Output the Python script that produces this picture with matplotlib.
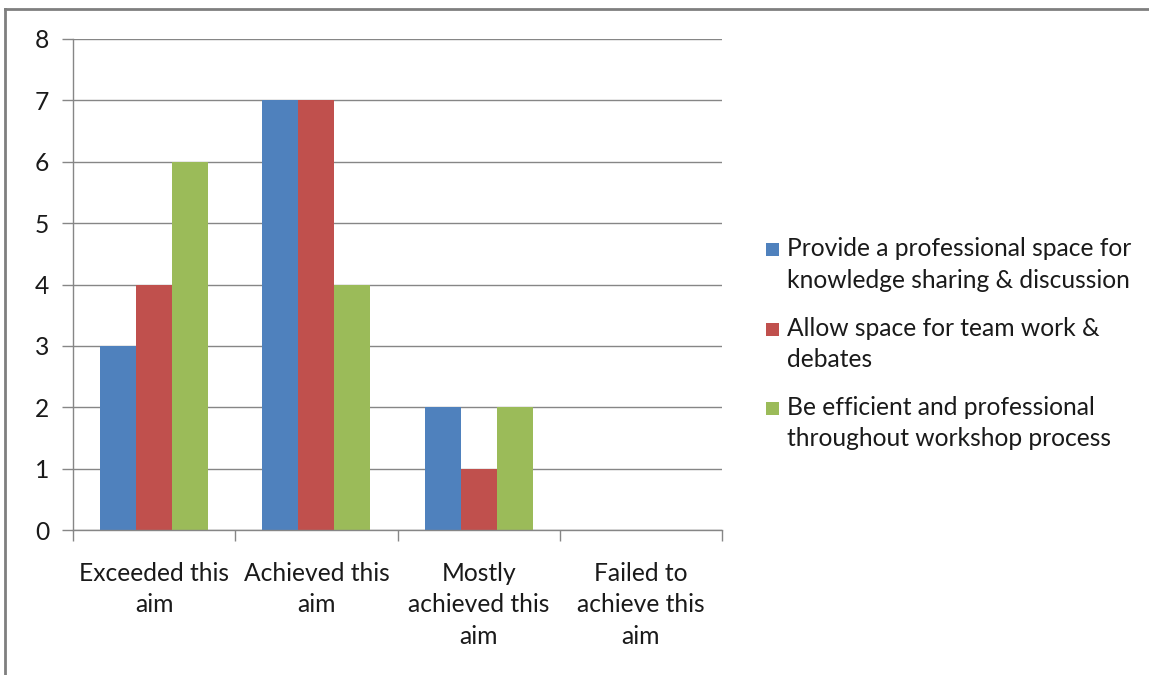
import matplotlib
matplotlib.use("Agg")
import matplotlib.pyplot as plt
from matplotlib.lines import Line2D
from matplotlib.patches import Rectangle
from matplotlib.transforms import blended_transform_factory
import numpy as np

categories = ["Exceeded this\naim", "Achieved this\naim", "Mostly\nachieved this\naim", "Failed to\nachieve this\naim"]
series_names = [
    "Provide a professional space for\nknowledge sharing & discussion",
    "Allow space for team work &\ndebates",
    "Be efficient and professional\nthroughout workshop process",
]
series_values = [
    [3, 7, 2, 0],
    [4, 7, 1, 0],
    [6, 4, 2, 0],
]
colors = ["#4F81BD", "#C0504D", "#9BBB59"]
y_ticks = [0, 1, 2, 3, 4, 5, 6, 7, 8]

plt.rcParams["font.family"] = ["Lato", "DejaVu Sans"]
W, H = 1149, 675
fs = 17.7
text_c = "#1a1a1a"
pitch = 31.5  # pixel distance between baselines of wrapped lines
fig = plt.figure(figsize=(W / 100, H / 100), dpi=100)
ax_left, ax_right, ax_top, ax_bot = 73, 722, 39, 530
ax = fig.add_axes([ax_left / W, 1 - ax_bot / H, (ax_right - ax_left) / W, (ax_bot - ax_top) / H])


def fy(px):
    """Figure fraction for a pixel row counted from the top."""
    return 1 - px / H


grid_c = "#868686"
n = len(series_values)
bw = 1 / (n + 1.5)
x = np.arange(len(categories))
for i, (vals, c, name) in enumerate(zip(series_values, colors, series_names)):
    ax.bar(x + (i - (n - 1) / 2) * bw, vals, width=bw, color=c, label=name, zorder=3)

ax.set_xlim(-0.5, len(categories) - 0.5)
ax.set_ylim(0, 8)
ax.set_yticks(y_ticks)
ax.yaxis.grid(True, color=grid_c, linewidth=1.0, zorder=0)
ax.set_axisbelow(True)
for s in ["top", "right"]:
    ax.spines[s].set_visible(False)
for s in ["left", "bottom"]:
    ax.spines[s].set_color(grid_c)
    ax.spines[s].set_linewidth(1.0)
    ax.spines[s].set_zorder(4)

# category boundaries carry the x tick marks; category names sit below the centres
ax.set_xticks(np.arange(len(categories) + 1) - 0.5)
ax.set_xticklabels([])
ax.tick_params(axis="x", which="major", length=8, color=grid_c, width=1)
ax.tick_params(axis="y", length=8, color=grid_c, width=1, pad=9, labelsize=fs, labelcolor=text_c)

label_tr = blended_transform_factory(ax.transData, fig.transFigure)
for xi, cat in zip(x, categories):
    for k, line in enumerate(cat.split("\n")):
        ax.text(xi, fy(581 + k * pitch), line, transform=label_tr, ha="center", va="baseline",
                fontsize=fs, color=text_c)

# legend: square swatch next to the first line of each entry
legend_baselines = [256, 336, 415]
for name, c, base in zip(series_names, colors, legend_baselines):
    fig.add_artist(Rectangle((766 / W, fy(base)), 13 / W, 13 / H, transform=fig.transFigure,
                             facecolor=c, edgecolor="none"))
    for k, line in enumerate(name.split("\n")):
        fig.text(787 / W, fy(base + k * pitch), line, ha="left", va="baseline", fontsize=fs, color=text_c)

# outer chart frame
fig.add_artist(Line2D([5 / W, 5 / W], [0, fy(9)], transform=fig.transFigure, color="#7f7f7f", linewidth=2))
fig.add_artist(Line2D([5 / W, 1], [fy(9), fy(9)], transform=fig.transFigure, color="#7f7f7f", linewidth=2))

fig.savefig("out.png", dpi=100, facecolor="white")
